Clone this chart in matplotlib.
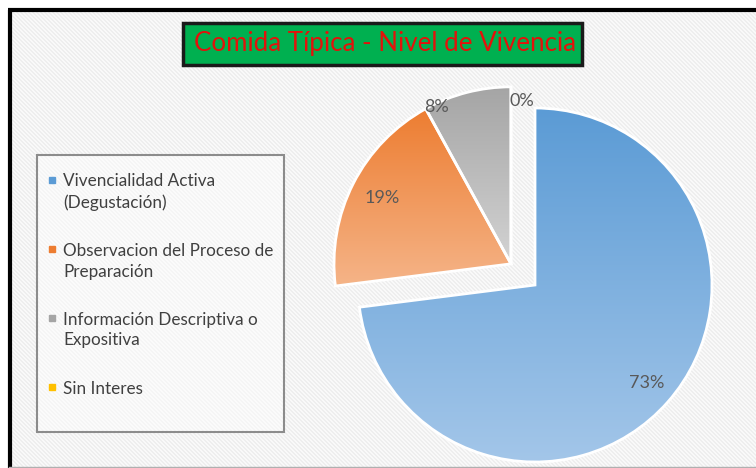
import numpy as np
import matplotlib.pyplot as plt
from matplotlib.patches import Rectangle
from matplotlib.colors import LinearSegmentedColormap

plt.rcParams['font.family'] = ['Lato', 'DejaVu Sans']

# datos
categorias = ['Vivencialidad Activa\n(Degustación)',
              'Observacion del Proceso de\nPreparación',
              'Información Descriptiva o\nExpositiva',
              'Sin Interes']
porcentajes = [73, 19, 8, 0]
etiquetas = ['73%', '19%', '8%', '0%']
titulo = 'Comida Típica - Nivel de Vivencia'

colores = ['#5b9bd5', '#ed7d31', '#a5a5a5', '#ffc000']
claros = ['#a3c6e9', '#f5b488', '#d3d3d3', '#ffe08a']

W, H = 756, 468
def fy(y):
    # la imagen se mide desde arriba
    return H - y

fig = plt.figure(figsize=(W / 100, H / 100), dpi=100)
ax = fig.add_axes([0, 0, 1, 1])

# fondo rayado
xx, yy = np.meshgrid(np.arange(W), np.arange(H))
rayas = np.where((xx - yy) % 4 < 2, 0.93, 0.975)
rayas[:10, :] = 1.0
rayas[:, :9] = 1.0
ax.imshow(rayas, cmap='gray', vmin=0, vmax=1, extent=[0, W, 0, H],
          origin='upper', interpolation='nearest', zorder=0)

# marco exterior
ax.plot([8, W], [fy(10), fy(10)], color='black', lw=3, zorder=1, solid_capstyle='butt')
ax.plot([9.5, 9.5], [fy(10), 0], color='black', lw=3, zorder=1, solid_capstyle='butt')
ax.plot([9, W], [fy(466.5), fy(466.5)], color='#b0b0b0', lw=1, zorder=1)

# torta
cx, cy, R = 535, fy(285), 177
wedges, _ = ax.pie(porcentajes, startangle=90, counterclock=False,
                   center=(cx, cy), radius=R,
                   wedgeprops=dict(facecolor='none', edgecolor='white', linewidth=2))

# las tres porciones pequeñas se separan juntas
grupo = wedges[1:]
t1 = min(w.theta1 for w in grupo)
t2 = max(w.theta2 for w in grupo)
medio = np.deg2rad((t1 + t2) / 2)
sep = 32
for w in grupo:
    w.set_center((cx + sep * np.cos(medio), cy + sep * np.sin(medio)))

for w, c1, c2, v in zip(wedges, colores, claros, porcentajes):
    w.set_zorder(3)
    if v == 0:
        continue
    bb = w.get_path().get_extents()
    cmap = LinearSegmentedColormap.from_list('g', [c2, c1])
    im = ax.imshow(np.linspace(0, 1, 256).reshape(-1, 1), cmap=cmap,
                   extent=[bb.x0, bb.x1, bb.y0, bb.y1], origin='lower',
                   aspect='auto', interpolation='bilinear', zorder=2)
    im.set_clip_path(w)

dist = [0.84, 0.82, 0.98, 0.92]
giro = [0, 0, 11, -4]
for w, txt, d, g in zip(wedges, etiquetas, dist, giro):
    a = np.deg2rad((w.theta1 + w.theta2) / 2 + g)
    x0, y0 = w.center
    ax.text(x0 + d * R * np.cos(a), y0 + d * R * np.sin(a), txt,
            ha='center', va='center', fontsize=13, color='#595959', zorder=4)

# titulo
ax.add_patch(Rectangle((183, fy(65)), 399, 42, facecolor='#00b050',
                       edgecolor='#1a1a1a', linewidth=2.5, zorder=5))
ax.text(385, fy(44), titulo, ha='center', va='center', fontsize=18.6,
        color='#e3120b', zorder=6)

# leyenda
ax.add_patch(Rectangle((37, fy(432)), 247, 277, facecolor='white', alpha=0.45,
                       edgecolor='none', zorder=1))
ax.add_patch(Rectangle((37, fy(432)), 247, 277, facecolor='none',
                       edgecolor='#8c8c8c', linewidth=1.5, zorder=1))
y = 180
alto_linea, hueco = 21, 27
for nombre, c in zip(categorias, colores):
    ax.plot(52, fy(y), marker='s', ms=4.5, color=c, zorder=4)
    lineas = nombre.split('\n')
    for k, linea in enumerate(lineas):
        ax.text(63, fy(y + k * alto_linea), linea, ha='left', va='center_baseline',
                fontsize=12.3, color='#404040', zorder=4)
    y += len(lineas) * alto_linea + hueco

ax.set_xlim(0, W)
ax.set_ylim(0, H)
ax.set_aspect('auto')
ax.axis('off')

fig.savefig('out.png', dpi=100)
